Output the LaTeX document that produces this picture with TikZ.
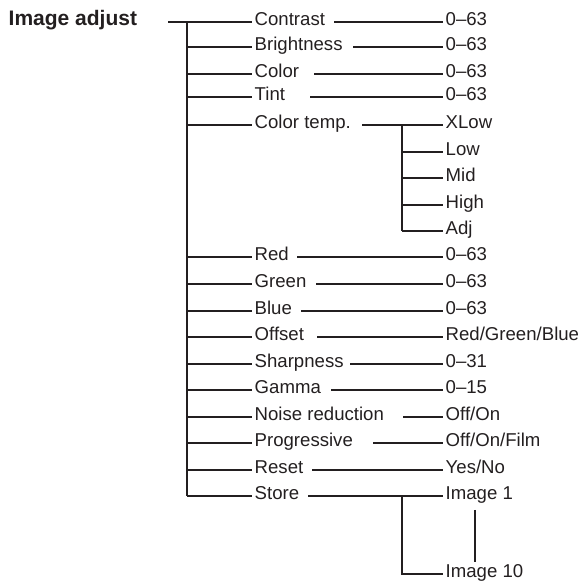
\documentclass[tikz,border=0pt]{standalone}
\usepackage{fontspec}
\setmainfont{Liberation Sans}
\usetikzlibrary{positioning, calc}
\definecolor{InkGray}{RGB}{35,31,32}

\begin{document}
\begin{tikzpicture}[
    x=1pt, y=-1pt,
    font=\fontsize{18.6}{22}\selectfont,
    entry/.style={anchor=west, inner xsep=2.5pt, inner ysep=0pt,
        text height=0.72em, text depth=0pt, text=InkGray},
    link/.style={draw=InkGray, line width=1.1pt},
]
\useasboundingbox (0,0) rectangle (582,581);

% menu title and main trunk
\node[entry, font=\fontsize{21}{24}\selectfont\bfseries] (title) at (6,22) {Image adjust};
\coordinate (root) at (168,22);
\coordinate (trunk) at (187,22);
\coordinate (subx) at (402,0);

\foreach \y/\name/\ls/\val [count=\i] in {%
    22/Contrast/334/0–63,
    47/Brightness/353/0–63,
    74/Color/314/0–63,
    97/Tint/310/0–63,
    125/Color temp./362/XLow,
    257/Red/297/0–63,
    284/Green/316/0–63,
    311/Blue/301/0–63,
    337/Offset/317/{Red/Green/Blue},
    364/Sharpness/350/0–31,
    390/Gamma/331/0–15,
    417/Noise reduction/403/{Off/On},
    443/Progressive/373/{Off/On/Film},
    470/Reset/312/{Yes/No},
    496/Store/308/Image 1%
}{
    \node[entry] (m\i) at (252,\y) {\name};
    \coordinate (s\i) at (\ls,\y);
    \node[entry] (v\i) at (443,\y) {\val};
    \draw[link] (trunk |- m\i) -- (m\i.west);
    \draw[link] (s\i) -- (v\i.west);
}
\draw[link] (root) -- (trunk);
\draw[link] (trunk) -- (trunk |- m15);

% colour temperature choices
\foreach \y/\name [count=\j] in {152/Low, 178/Mid, 205/High, 231/Adj}{
    \node[entry] (t\j) at (443,\y) {\name};
    \draw[link] (t\j -| subx) -- (t\j.west);
}
\draw[link] (v5 -| subx) -- (t4 -| subx);

% stored images
\node[entry] (img10) at (443,574) {Image 10};
\coordinate (gapx) at (475,0);
\draw[link] (v15 -| subx) -- (img10 -| subx) -- (img10.west);
\draw[link] ($(v15.south -| gapx)+(0,10)$) -- ($(img10.north -| gapx)+(0,-8)$);

\end{tikzpicture}
\end{document}
